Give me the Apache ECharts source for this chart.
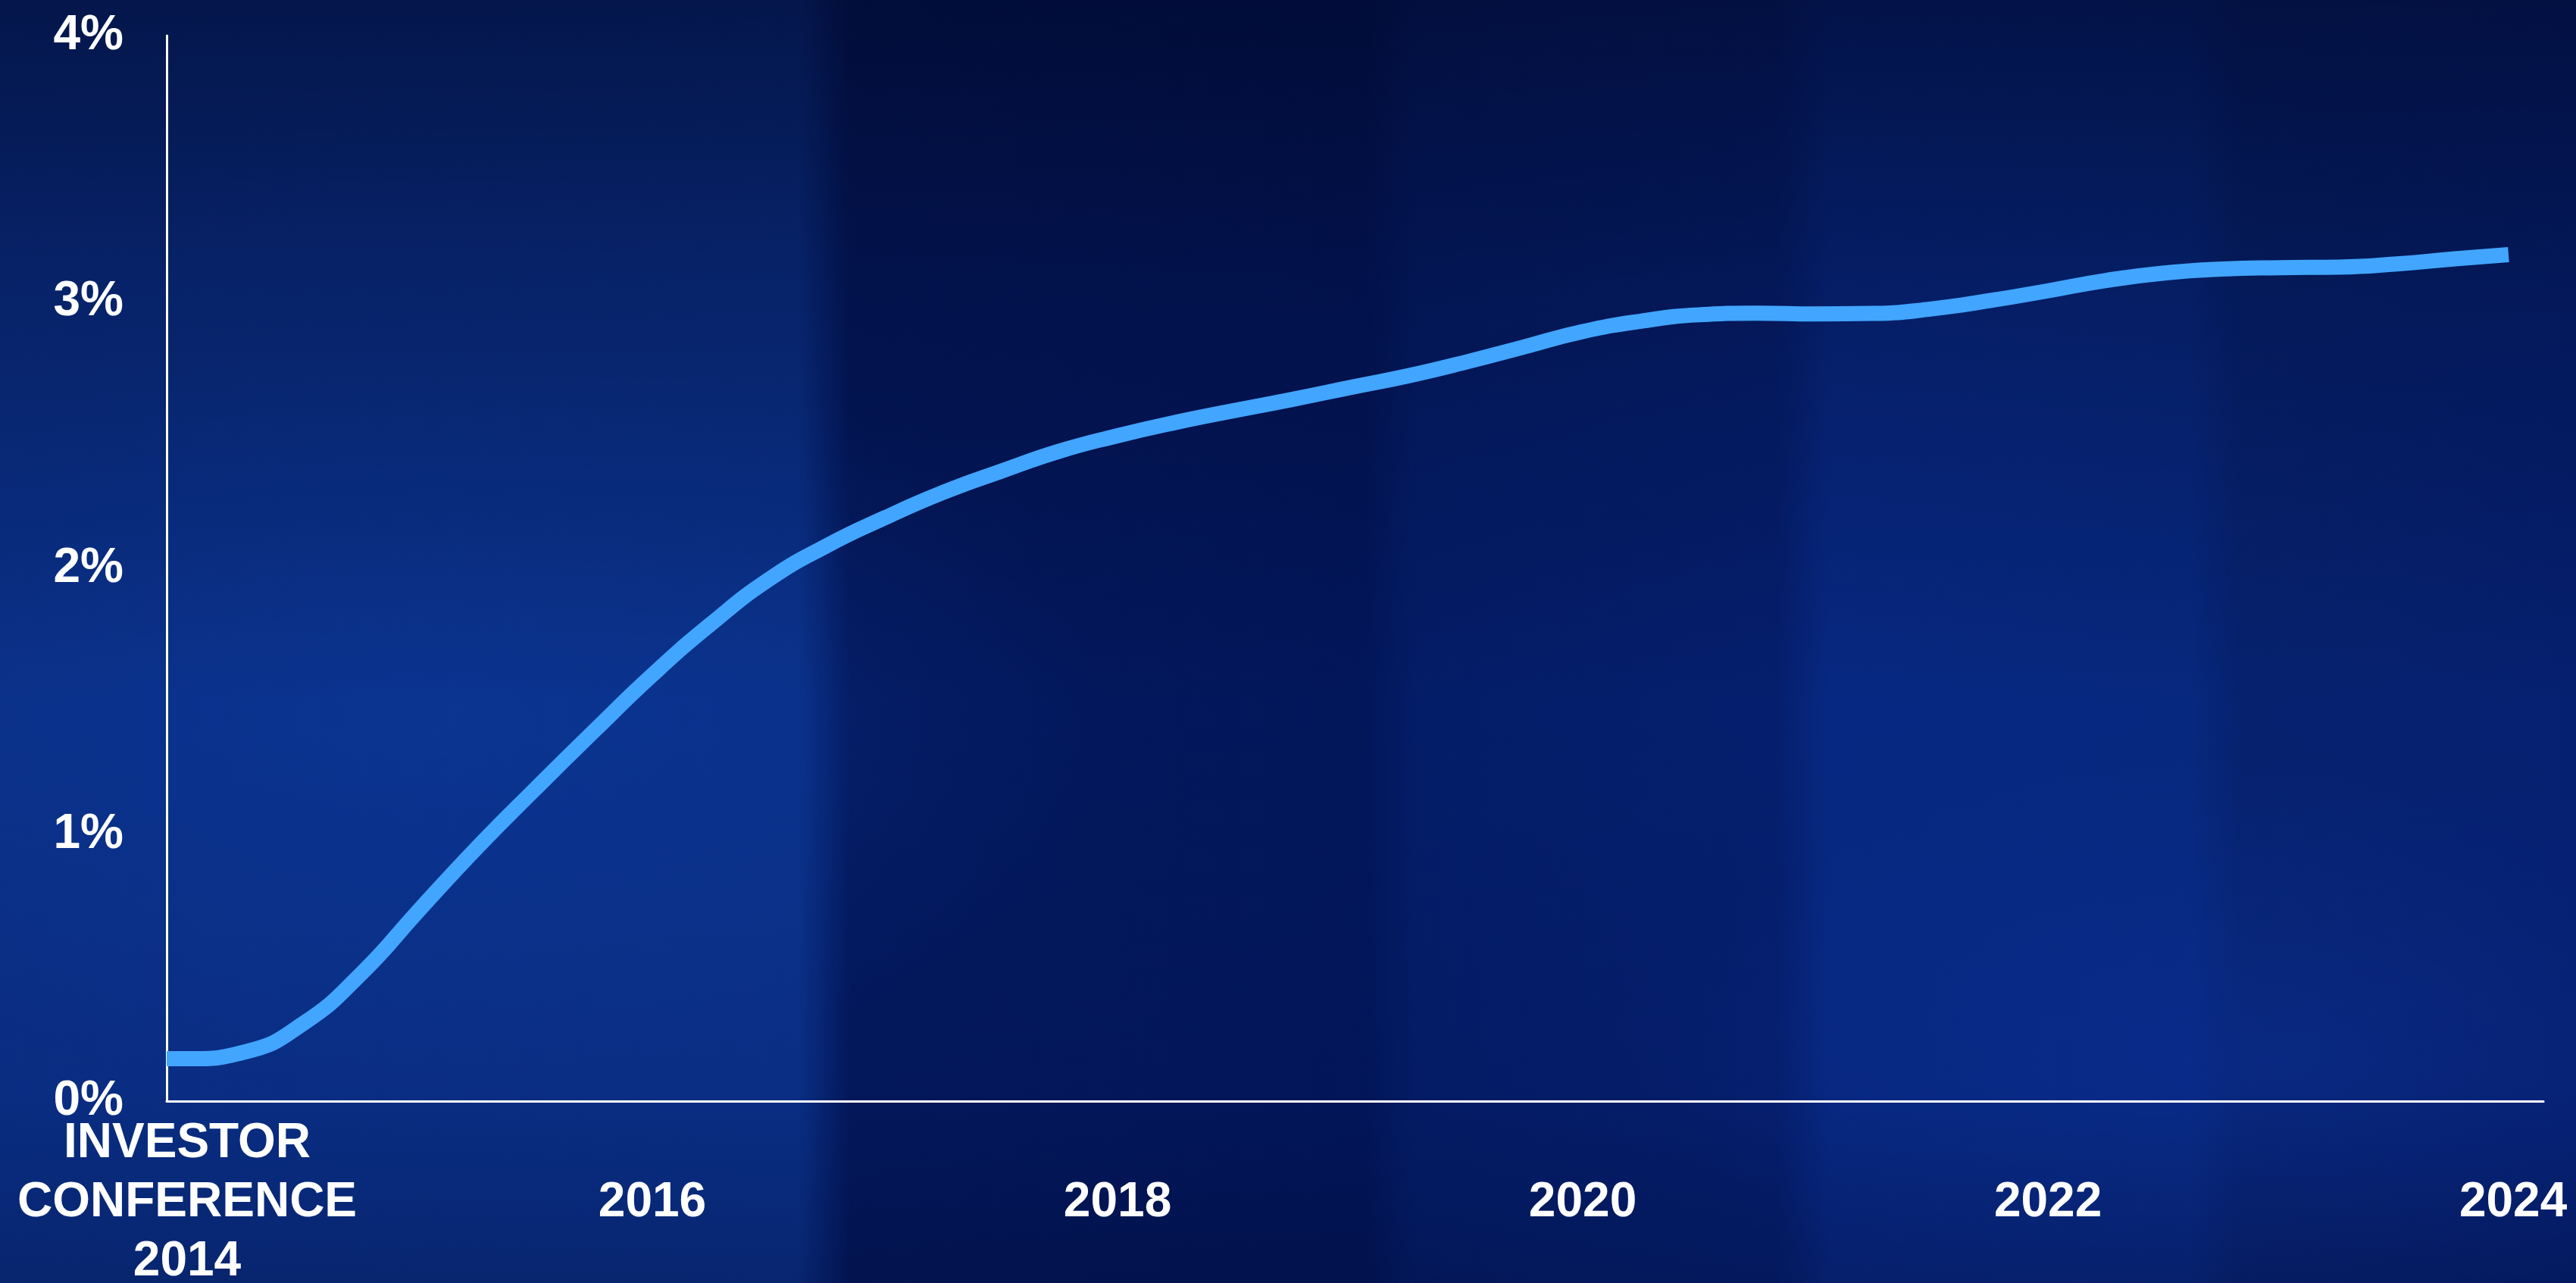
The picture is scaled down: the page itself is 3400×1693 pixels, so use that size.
<!DOCTYPE html>
<html>
<head>
<meta charset="utf-8">
<script src="https://cdn.jsdelivr.net/npm/echarts@6/dist/echarts.min.js"></script>
<style>
html, body { margin: 0; padding: 0; width: 3400px; height: 1693px; overflow: hidden; }
#bg {
  position: absolute; left: 0; top: 0; width: 3400px; height: 1693px;
  background:
    linear-gradient(to bottom, rgba(0,5,35,0.6) 0%, rgba(0,5,35,0.3) 22%, rgba(0,0,0,0) 55%, rgba(0,10,60,0.05) 85%, rgba(0,5,40,0.25) 100%),
    radial-gradient(ellipse 900px 500px at 560px 950px, rgba(12,60,160,0.4), rgba(0,0,0,0)),
    radial-gradient(ellipse 800px 400px at 3000px 1400px, rgba(15,55,170,0.35), rgba(0,0,0,0)),
    linear-gradient(to right, #0a2f86 0%, #0a3088 31%, #03185c 33%, #02165a 53%, #041d68 55%, #051f6e 69%, #072882 71%, #07287f 85%, #06226f 87%, #052070 100%);
}
#chart { position: absolute; left: 0; top: 0; width: 3400px; height: 1693px; }
</style>
</head>
<body>
<div id="bg"></div>
<div id="chart"></div>
<script>
// Data (percent) at quarter-year steps
const years = [2013.912, 2014.00, 2014.25, 2014.50, 2014.75, 2015.00, 2015.25, 2015.50, 2015.75,
  2016.00, 2016.25, 2016.50, 2016.75, 2017.00, 2017.25, 2017.50, 2017.75,
  2018.00, 2018.25, 2018.50, 2018.75, 2019.00, 2019.25, 2019.50, 2019.75,
  2020.00, 2020.25, 2020.50, 2020.75, 2021.00, 2021.25, 2021.50, 2021.75,
  2022.00, 2022.25, 2022.50, 2022.75, 2023.00, 2023.25, 2023.50, 2023.75, 2023.98];
const values = [0.159, 0.159, 0.185, 0.292, 0.48, 0.72, 0.955, 1.175, 1.39,
  1.60, 1.79, 1.958, 2.085, 2.19, 2.285, 2.365, 2.44,
  2.498, 2.548, 2.592, 2.634, 2.679, 2.723, 2.775, 2.832,
  2.889, 2.928, 2.952, 2.958, 2.955, 2.957, 2.974, 3.005,
  3.042, 3.081, 3.109, 3.124, 3.129, 3.131, 3.143, 3.162, 3.178];
const xTickYears = [2014, 2016, 2018, 2020, 2022, 2024];
const xTickLabels = ['INVESTOR\nCONFERENCE\n2014', '2016', '2018', '2020', '2022', '2024'];
const yTickLabels = ['0%', '1%', '2%', '3%', '4%'];

const chart = echarts.init(document.getElementById('chart'), null, { renderer: 'canvas' });
const font = { fontFamily: '"Liberation Sans", Arial, sans-serif', fontWeight: 'bold', color: '#ffffff', fontSize: 64 };
chart.setOption({
  backgroundColor: 'transparent',
  animation: false,
  grid: { left: 220, right: 43, top: 47, bottom: 240, containLabel: false, outerBoundsMode: 'none' },
  xAxis: {
    type: 'value',
    min: 2013.912,
    max: 2024.13,
    axisLine: { show: true, lineStyle: { color: '#ffffff', width: 3 } },
    axisTick: { show: false },
    splitLine: { show: false },
    axisLabel: Object.assign({}, font, {
      customValues: xTickYears,
      lineHeight: 78,
      verticalAlign: 'middle',
      align: 'center',
      margin: 134,
      formatter: function (v) {
        const i = xTickYears.indexOf(Math.round(v));
        return i >= 0 ? xTickLabels[i] : '';
      }
    })
  },
  yAxis: {
    type: 'value',
    min: 0,
    max: 4,
    interval: 1,
    axisLine: { show: true, lineStyle: { color: '#ffffff', width: 3 } },
    axisTick: { show: false },
    splitLine: { show: false },
    axisLabel: Object.assign({}, font, {
      margin: 57,
      padding: [8, 0, 0, 0],
      formatter: function (v) { return yTickLabels[Math.round(v)]; }
    })
  },
  series: [{
    type: 'line',
    data: years.map((y, i) => [y, values[i]]),
    smooth: 0.5,
    symbol: 'none',
    lineStyle: { color: '#42a5ff', width: 20, cap: 'butt' }
  }]
});
</script>
</body>
</html>
